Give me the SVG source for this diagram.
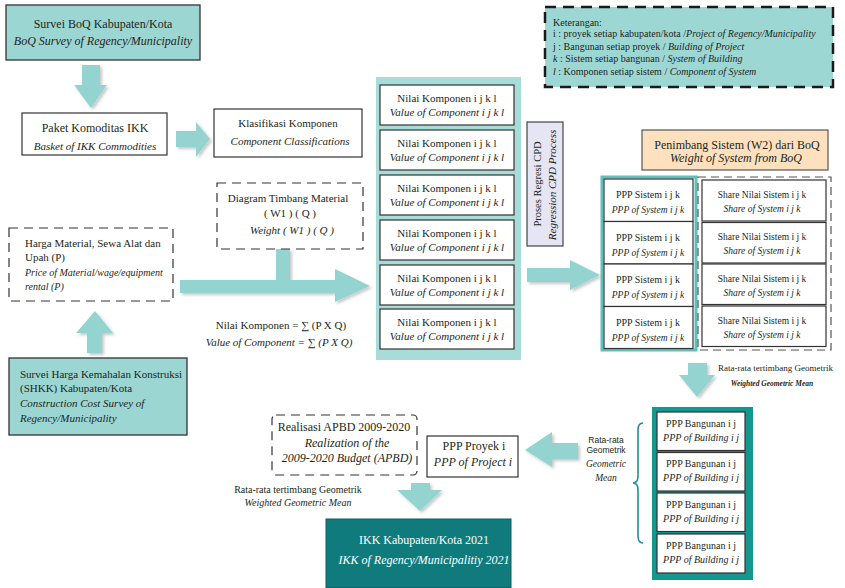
<svg xmlns="http://www.w3.org/2000/svg" width="845" height="588" viewBox="0 0 845 588">
<defs>
<filter id="sh" x="-20%" y="-20%" width="150%" height="150%">
<feDropShadow dx="2" dy="2" stdDeviation="1.5" flood-color="#000" flood-opacity="0.22"/>
</filter>
</defs>
<style>
text{font-family:"Liberation Serif","DejaVu Serif",serif;fill:#231f20;}
.c{text-anchor:middle;}
.i{font-style:italic;}
.box{fill:#fff;stroke:#333;stroke-width:1.2;}
.teal{fill:#9cd6d3;stroke:#333;stroke-width:1.3;}
.dash{fill:#fff;stroke:#333;stroke-width:1.2;stroke-dasharray:9 6;}
.arr{fill:#93d4d1;filter:url(#sh);}
.f12{font-size:12px;}
.f11{font-size:11px;}
.f10{font-size:10px;}
.f95{font-size:9.5px;}
.sans{font-family:"Liberation Sans","DejaVu Sans",sans-serif;}
</style>
<rect width="845" height="588" fill="#fff"/>

<g id="connectors">
<polygon class="arr" points="82,65 100,65 100,85 107,85 91,108 74,85 82,85"/>
<polygon class="arr" points="176,131 196,131 196,122 210,139 196,157 196,147 176,147"/>
<polygon class="arr" points="180,280 276,280 276,249 290,249 290,280 335,280 335,269 370,286 335,302 335,293 180,293"/>
<polygon class="arr" points="87,353 87,333 76,333 95,311 113,333 102,333 102,353"/>
<polygon class="arr" points="527,268 570,268 570,260 600,275 570,290 570,282 527,282"/>
<polygon class="arr" points="688,363 707,363 707,375 715,375 697,397 679,375 688,375"/>
<polygon class="arr" points="578,443 552,443 552,432 525,450 552,467 552,459 578,459"/>
<polygon class="arr" points="411,483 430,483 430,490 442,490 420,511 397,490 411,490"/>
<path d="M643 423 Q638 423 638 430 L638 476 Q638 483 633 483 Q638 483 638 490 L638 536 Q638 543 643 543" fill="none" stroke="#1f8fa0" stroke-width="1.6"/>
</g>

<g id="survei-boq">
<rect class="teal" x="6" y="5" width="194" height="55"/>
<text class="c f12" x="103" y="28">Survei BoQ Kabupaten/Kota</text>
<text class="c f12 i" x="103" y="45">BoQ Survey of Regency/Municipality</text>
</g>

<g id="paket">
<rect class="box" x="22" y="113" width="145" height="42"/>
<text class="c f12" x="95" y="132">Paket Komoditas IKK</text>
<text class="c f11 i" x="95" y="150">Basket of IKK Commodities</text>
</g>

<g id="klasifikasi">
<rect class="box" x="214" y="109" width="148" height="48"/>
<text class="c f11" x="288" y="127">Klasifikasi Komponen</text>
<text class="c f11 i" x="290" y="145">Component Classifications</text>
</g>

<g id="diagram-timbang">
<rect class="dash" x="217" y="183" width="146" height="66"/>
<text class="c f11" x="288" y="202">Diagram Timbang Material</text>
<text class="c f11" x="290" y="217">( W1 ) ( Q )</text>
<text class="c f11 i" x="292" y="234">Weight ( W1 ) ( Q )</text>
</g>

<g id="harga">
<rect class="dash" x="9" y="228" width="164" height="73"/>
<text class="f11" x="25" y="247">Harga Material, Sewa Alat dan</text>
<text class="f11" x="25" y="261">Upah (P)</text>
<text class="f10 i" x="25" y="276">Price of Material/wage/equipment</text>
<text class="f10 i" x="25" y="290">rental (P)</text>
</g>

<g id="shkk">
<rect class="teal" x="9" y="358" width="178" height="77"/>
<text class="f11" x="20" y="378">Survei Harga Kemahalan Konstruksi</text>
<text class="f11" x="20" y="392">(SHKK) Kabupaten/Kota</text>
<text class="f11 i" x="20" y="407">Construction Cost Survey of</text>
<text class="f11 i" x="20" y="422">Regency/Municipality</text>
</g>

<g id="rumus">
<text class="c f11" x="281" y="329">Nilai Komponen =  ∑ (P X Q)</text>
<text class="c f11 i" x="279" y="346">Value of Component = ∑ (P X Q)</text>
</g>

<g id="nilai-komponen">
<rect x="376" y="77" width="145" height="283" fill="#a8dcd9"/>
<rect class="box" x="380" y="85" width="134" height="40"/>
<text class="c f11" x="447" y="102">Nilai Komponen i j k l</text>
<text class="c f11 i" x="447" y="116">Value of Component i j k l</text>
<rect class="box" x="380" y="130" width="134" height="40"/>
<text class="c f11" x="447" y="147">Nilai Komponen i j k l</text>
<text class="c f11 i" x="447" y="161">Value of Component i j k l</text>
<rect class="box" x="380" y="175" width="134" height="40"/>
<text class="c f11" x="447" y="192">Nilai Komponen i j k l</text>
<text class="c f11 i" x="447" y="206">Value of Component i j k l</text>
<rect class="box" x="380" y="220" width="134" height="40"/>
<text class="c f11" x="447" y="237">Nilai Komponen i j k l</text>
<text class="c f11 i" x="447" y="251">Value of Component i j k l</text>
<rect class="box" x="380" y="265" width="134" height="40"/>
<text class="c f11" x="447" y="282">Nilai Komponen i j k l</text>
<text class="c f11 i" x="447" y="296">Value of Component i j k l</text>
<rect class="box" x="380" y="309" width="134" height="40"/>
<text class="c f11" x="447" y="326">Nilai Komponen i j k l</text>
<text class="c f11 i" x="447" y="340">Value of Component i j k l</text>
</g>

<g id="proses-cpd">
<rect x="527" y="122" width="36" height="124" fill="#e5e5f3" stroke="#444" stroke-width="1.2"/>
<text class="c" font-size="10.5" transform="translate(541,184) rotate(-90)">Proses Regresi CPD</text>
<text class="c f11 i" transform="translate(556,185) rotate(-90)">Regression CPD Process</text>
</g>

<g id="keterangan">
<rect x="545" y="7" width="288" height="80" fill="#9dd7d4" stroke="#1a1a1a" stroke-width="2.5" stroke-dasharray="11 7"/>
<text font-size="10" x="553" y="25.5">Keterangan:</text>
<text font-size="10" x="553" y="36.5">i :  proyek setiap kabupaten/kota /<tspan class="i">Project of Regency/Municipality</tspan></text>
<text font-size="10" x="553" y="49.5">j :  Bangunan setiap proyek / <tspan class="i">Building of Project</tspan></text>
<text font-size="10" x="553" y="61.5"><tspan class="i">k</tspan> :  Sistem setiap bangunan / <tspan class="i">System of Building</tspan></text>
<text font-size="10" x="553" y="74.5"><tspan class="i">l</tspan> :  Komponen setiap sistem / <tspan class="i">Component of System</tspan></text>
</g>

<g id="penimbang">
<rect x="642" y="130" width="186" height="40" fill="#fde1bf" stroke="#555" stroke-width="1.2"/>
<text class="c f12" x="737" y="149">Penimbang Sistem (W2) dari BoQ</text>
<text class="c f12 i" x="736" y="162">Weight of System from BoQ</text>
</g>

<g id="ppp-sistem">
<rect x="602" y="177" width="94" height="173" fill="#fff" stroke="#5fc0b9" stroke-width="3"/>
<rect class="box" x="604" y="179" width="89" height="42.5"/>
<text class="c f10" x="648" y="198">PPP Sistem i j k</text>
<text class="c f95 i" x="648" y="213">PPP of System i j k</text>
<rect class="box" x="604" y="221.5" width="89" height="42.5"/>
<text class="c f10" x="648" y="240.5">PPP Sistem i j k</text>
<text class="c f95 i" x="648" y="255.5">PPP of System i j k</text>
<rect class="box" x="604" y="264" width="89" height="42.5"/>
<text class="c f10" x="648" y="283">PPP Sistem i j k</text>
<text class="c f95 i" x="648" y="298">PPP of System i j k</text>
<rect class="box" x="604" y="306.5" width="89" height="42"/>
<text class="c f10" x="648" y="325.5">PPP Sistem i j k</text>
<text class="c f95 i" x="648" y="340.5">PPP of System i j k</text>
</g>

<g id="share-sistem">
<rect x="698" y="177" width="133" height="173" fill="#fff" stroke="#555" stroke-width="1.2" stroke-dasharray="8 5"/>
<rect class="box" x="702" y="180" width="124" height="41"/>
<text class="c f95" x="762" y="198">Share Nilai Sistem i j k</text>
<text class="c f95 i" x="762" y="212">Share of System i j k</text>
<rect class="box" x="702" y="222.5" width="124" height="40.5"/>
<text class="c f95" x="762" y="240">Share Nilai Sistem i j k</text>
<text class="c f95 i" x="762" y="254">Share of System i j k</text>
<rect class="box" x="702" y="264" width="124" height="40.5"/>
<text class="c f95" x="762" y="281.5">Share Nilai Sistem i j k</text>
<text class="c f95 i" x="762" y="295.5">Share of System i j k</text>
<rect class="box" x="702" y="306" width="124" height="40.5"/>
<text class="c f95" x="762" y="323.5">Share Nilai Sistem i j k</text>
<text class="c f95 i" x="762" y="337.5">Share of System i j k</text>
</g>

<g id="label-rata-tertimbang-kanan">
<text font-size="9" x="718" y="371">Rata-rata tertimbang Geometrik</text>
<text class="c i" font-size="7.5" font-weight="bold" x="772" y="386">Weighted Geometric Mean</text>
</g>

<g id="ppp-bangunan">
<rect x="652" y="407" width="101" height="173" fill="#13978f"/>
<rect class="box" x="657" y="412" width="88" height="38.5"/>
<text class="c f10" x="701" y="426.5">PPP Bangunan i j</text>
<text class="c f10 i" x="701" y="440.5">PPP of Building i j</text>
<rect class="box" x="657" y="452.5" width="88" height="38.5"/>
<text class="c f10" x="701" y="467">PPP Bangunan i j</text>
<text class="c f10 i" x="701" y="481">PPP of Building i j</text>
<rect class="box" x="657" y="493" width="88" height="38.5"/>
<text class="c f10" x="701" y="507.5">PPP Bangunan i j</text>
<text class="c f10 i" x="701" y="521.5">PPP of Building i j</text>
<rect class="box" x="657" y="534" width="88" height="39"/>
<text class="c f10" x="701" y="548.5">PPP Bangunan i j</text>
<text class="c f10 i" x="701" y="562.5">PPP of Building i j</text>
</g>

<g id="label-rata-geometrik">
<text class="c sans" font-size="8.5" x="606" y="443">Rata-rata</text>
<text class="c sans" font-size="8.5" x="606" y="453">Geometrik</text>
<text class="c i" font-size="9.5" x="606" y="467">Geometric</text>
<text class="c i" font-size="9.5" x="606" y="481">Mean</text>
</g>

<g id="ppp-proyek">
<rect class="box" x="427" y="436" width="91" height="41"/>
<text class="c f12" x="474" y="450">PPP Proyek i</text>
<text class="c f12 i" x="473" y="466">PPP of Project i</text>
</g>

<g id="realisasi-apbd">
<rect class="dash" x="272" y="415" width="145" height="60" rx="4"/>
<text class="c f12" x="344" y="431">Realisasi APBD 2009-2020</text>
<text class="c f12 i" x="347" y="447">Realization of the</text>
<text class="c f12 i" x="347" y="462">2009-2020 Budget (APBD)</text>
</g>

<g id="label-rata-tertimbang-kiri">
<text class="c f10" x="298" y="493">Rata-rata tertimbang Geometrik</text>
<text class="c f10 i" x="298" y="506">Weighted Geometric Mean</text>
</g>

<g id="ikk">
<rect x="326" y="519" width="185" height="69" fill="#0f7b7d" stroke="#0b5f60" stroke-width="1"/>
<text class="c f12" x="424" y="544" style="fill:#fff">IKK Kabupaten/Kota 2021</text>
<text class="c f12 i" x="424" y="564" style="fill:#fff">IKK of Regency/Municipalitiy 2021</text>
</g>
</svg>
